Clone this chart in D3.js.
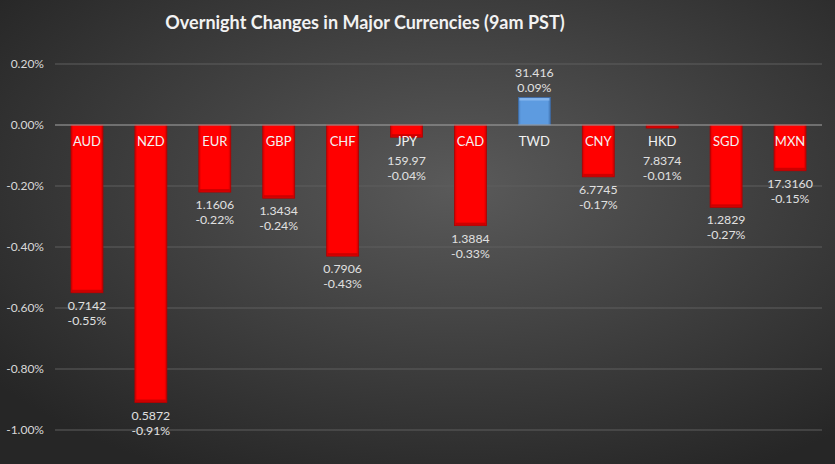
<!DOCTYPE html>
<html><head><meta charset="utf-8">
<script src="https://cdn.jsdelivr.net/npm/d3@7/dist/d3.min.js"></script>
<style>html,body{margin:0;padding:0;background:#333;}svg{display:block;}</style>
</head><body>
<svg id="chart" width="835" height="464"></svg>
<script>
const categories = ["AUD","NZD","EUR","GBP","CHF","JPY","CAD","TWD","CNY","HKD","SGD","MXN"];
const changes = [-0.55,-0.91,-0.22,-0.24,-0.43,-0.04,-0.33,0.09,-0.17,-0.01,-0.27,-0.15];
const rates = ["0.7142","0.5872","1.1606","1.3434","0.7906","159.97","1.3884","31.416","6.7745","7.8374","1.2829","17.3160"];
const yTicks = [0.2,0,-0.2,-0.4,-0.6,-0.8,-1.0];
const title = "Overnight Changes in Major Currencies (9am PST)";

const W=835,H=464;
const svg=d3.select("#chart");
const defs=svg.append("defs");
const bg=defs.append("radialGradient").attr("id","bg").attr("cx","55%").attr("cy","40%").attr("r","70%");
bg.append("stop").attr("offset","0%").attr("stop-color","#5a5a5a");
bg.append("stop").attr("offset","100%").attr("stop-color","#262626");
const rg=defs.append("linearGradient").attr("id","red").attr("x1","0").attr("x2","1").attr("y1","0").attr("y2","0");
[["0%","#d00000"],["8%","#ff0000"],["92%","#ff0000"],["100%","#c80000"]].forEach(s=>rg.append("stop").attr("offset",s[0]).attr("stop-color",s[1]));
const bgr=defs.append("linearGradient").attr("id","blue").attr("x1","0").attr("x2","1").attr("y1","0").attr("y2","0");
[["0%","#4a7fc0"],["8%","#5d9be0"],["92%","#5d9be0"],["100%","#4577b5"]].forEach(s=>bgr.append("stop").attr("offset",s[0]).attr("stop-color",s[1]));

svg.append("rect").attr("width",W).attr("height",H).attr("fill","url(#bg)");

const font="Lato, 'Open Sans', 'Liberation Sans', sans-serif";
const pct=v=>d3.format(".2f")(v).replace("\u2212","-")+"%";
const x=d3.scaleBand().domain(categories).range([55,822]).paddingInner(0.5).paddingOuter(0.25);
const y=d3.scaleLinear().domain([-1.0,0.2]).range([430,64]);

svg.append("text").attr("x",365).attr("y",28.5).attr("text-anchor","middle")
  .attr("font-family",font).attr("font-weight","bold").attr("font-size",18).attr("fill","#f2f2f2").text(title);

// grid
const g=svg.append("g");
g.selectAll("line.grid").data(yTicks.filter(t=>t!==0)).join("line")
  .attr("x1",55).attr("x2",822).attr("y1",d=>y(d)).attr("y2",d=>y(d))
  .attr("stroke","#5e5e5e").attr("stroke-width",1);
const yAxis=d3.axisLeft(y).tickValues(yTicks).tickSize(0).tickPadding(0).tickFormat(pct);
const ya=svg.append("g").attr("transform","translate(44,0)").call(yAxis);
ya.select(".domain").remove();
ya.selectAll("text").attr("font-family",font).attr("font-size",12).attr("fill","#d9d9d9");

// bars
const data=categories.map((c,i)=>({c,v:changes[i],r:rates[i]}));
const bars=svg.append("g");
bars.selectAll("rect").data(data).join("rect")
  .attr("x",d=>x(d.c)).attr("width",x.bandwidth())
  .attr("y",d=>Math.min(y(d.v),y(0))).attr("height",d=>Math.abs(y(d.v)-y(0)))
  .attr("fill",d=>d.v<0?"url(#red)":"url(#blue)")
  .attr("stroke",d=>d.v<0?"#b00000":"#3d6ca8").attr("stroke-width",0.8);
bars.selectAll("rect.bev").data(data).join("rect").attr("class","bev")
  .attr("x",d=>x(d.c)+1).attr("width",x.bandwidth()-2)
  .attr("y",d=>d.v<0?y(d.v)-3:y(d.v)+0.5).attr("height",2.5)
  .attr("fill",d=>d.v<0?"#c00000":"#8fbdf0").attr("opacity",0.8);

// zero line
svg.append("line").attr("x1",55).attr("x2",822).attr("y1",y(0)).attr("y2",y(0)).attr("stroke","#a6a6a6").attr("stroke-width",1);

// category labels
svg.append("g").selectAll("text").data(data).join("text")
  .attr("x",d=>x(d.c)+x.bandwidth()/2).attr("y",y(0)+20.5).attr("text-anchor","middle")
  .attr("font-family",font).attr("font-size",13).attr("fill","#f2f2f2").text(d=>d.c);

// value labels
const vl=svg.append("g");
data.forEach(d=>{
  const cx=x(d.c)+x.bandwidth()/2;
  let l1,l2;
  if(d.v>=0){ l1=y(d.v)-21; l2=y(d.v)-6; }
  else { const b=Math.max(y(d.v),y(-0.075)); l1=b+17; l2=b+32; }
  vl.append("text").attr("x",cx).attr("y",l1).attr("text-anchor","middle").attr("font-family",font)
    .attr("font-size",12.3).attr("fill","#e0e0e0").text(d.r);
  vl.append("text").attr("x",cx).attr("y",l2).attr("text-anchor","middle").attr("font-family",font)
    .attr("font-size",12.3).attr("fill","#e0e0e0").text(pct(d.v));
});
</script>
</body></html>
